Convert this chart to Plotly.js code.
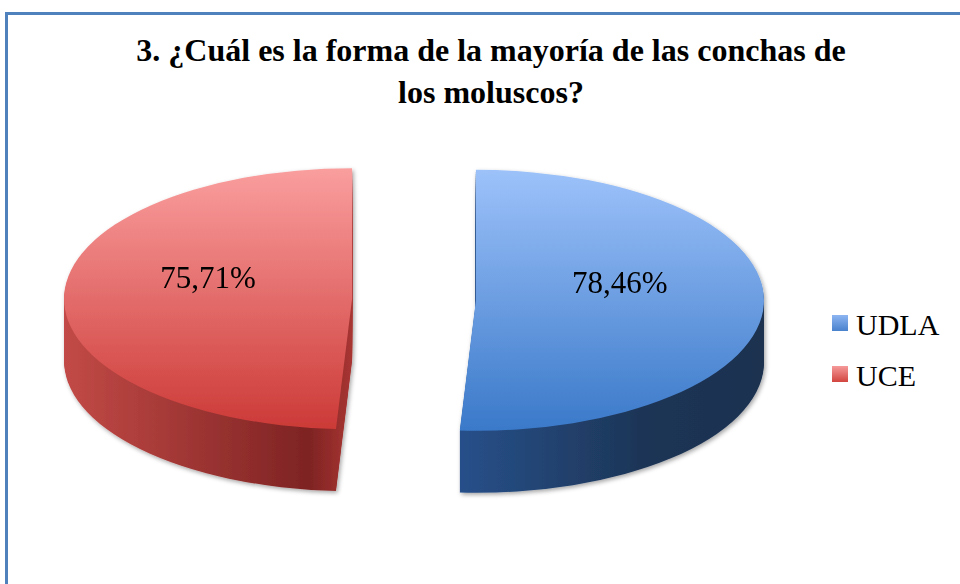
<!DOCTYPE html>
<html><head><meta charset="utf-8">
<script src="https://cdn.plot.ly/plotly-3.0.1.min.js"></script>
<style>
html,body{margin:0;padding:0;width:960px;height:584px;overflow:hidden;background:#fff;}
#frame{position:absolute;left:5px;top:12px;width:1000px;height:700px;border-top:3.5px solid #4f81bd;border-left:3.5px solid #4f81bd;box-sizing:border-box;}
#chart{position:absolute;left:0;top:0;width:960px;height:760px;}
</style></head><body>
<div id="frame"></div>
<div id="chart"></div>
<script>
// ---- data ----
const categories = ['UDLA', 'UCE'];
const percentages = [78.46, 75.71];
const labelTexts = percentages.map(v => v.toFixed(2).replace('.', ',') + '%');
const titleText = '3. ¿Cuál es la forma de la mayoría de las conchas de<br>los moluscos?';

// ---- style ----
const FONT = '"Times New Roman", "Liberation Serif", serif';
const topColors = ['#6d9be0', '#e06a66'];
const sideColors = ['#1f3a60', '#9a2d2b'];
const H = 760, CY_PRE = 380, CY = 299.5, S = 0.453, DEPTH = 62, STEP = 2;
const LABEL_DY = -42;
const dom = {x: [64/960, 764/960], y: [0, 1]};

const traces = [];
for (let d = DEPTH; d > 0; d -= STEP) {
  traces.push({type: 'pie', labels: categories, values: percentages, sort: false,
    direction: 'clockwise', rotation: 0, pull: [0.215, 0.215], domain: dom,
    marker: {colors: sideColors, line: {width: 0}}, textinfo: 'none',
    hoverinfo: 'skip', showlegend: false});
}
traces.push({type: 'pie', labels: categories, values: percentages, sort: false,
  direction: 'clockwise', rotation: 0, pull: [0.215, 0.215], domain: dom,
  marker: {colors: topColors, line: {width: 0}},
  text: labelTexts, textinfo: 'text', textposition: 'inside', insidetextorientation: 'horizontal',
  textfont: {family: FONT, size: 31, color: '#000'},
  hoverinfo: 'skip', showlegend: true});

const layout = {
  width: 960, height: H,
  margin: {l: 0, r: 0, t: 0, b: 0},
  paper_bgcolor: 'rgba(0,0,0,0)',
  showlegend: true,
  title: {text: titleText, x: 491/960, xanchor: 'center', y: 1 - 61/H, yanchor: 'top', yref: 'container',
    font: {family: FONT, size: 32, color: '#000', weight: 700}},
  legend: {x: 816/960, xanchor: 'left', y: 1 - 344/H, yanchor: 'middle',
    font: {family: FONT, size: 30, color: '#000'}, bgcolor: 'rgba(0,0,0,0)'}
};

Plotly.newPlot('chart', traces, layout, {staticPlot: true, displayModeBar: false}).then(gd => {
  const ns = 'http://www.w3.org/2000/svg';
  const svg = gd.querySelector('svg.main-svg');
  const defs = document.createElementNS(ns, 'defs');
  function grad(id, stops, vertical) {
    const g = document.createElementNS(ns, 'linearGradient');
    g.setAttribute('id', id);
    g.setAttribute('x1', '0'); g.setAttribute('y1', '0');
    g.setAttribute('x2', vertical ? '0' : '1'); g.setAttribute('y2', vertical ? '1' : '0');
    stops.forEach(([o, c]) => {
      const s = document.createElementNS(ns, 'stop');
      s.setAttribute('offset', o); s.setAttribute('stop-color', c);
      g.appendChild(s);
    });
    defs.appendChild(g);
  }
  grad('top0', [[0, '#9dc2fa'], [1, '#3a79c9']], true);
  grad('top1', [[0, '#fa9e9e'], [1, '#cc3a37']], true);
  grad('side0', [[0, '#27508a'], [0.6, '#1d3556'], [1, '#1b3150']], false);
  grad('side1', [[0, '#c24a46'], [0.85, '#7e2323'], [1, '#a83532']], false);
  grad('leg0', [[0, '#8db5f2'], [1, '#4a82cc']], true);
  grad('leg1', [[0, '#f59a9a'], [1, '#d2453f']], true);
  const f = document.createElementNS(ns, 'filter');
  f.setAttribute('id', 'pieshadow');
  f.setAttribute('x', '-5%'); f.setAttribute('y', '-5%');
  f.setAttribute('width', '110%'); f.setAttribute('height', '115%');
  const ds = document.createElementNS(ns, 'feDropShadow');
  ds.setAttribute('dx', '1.5'); ds.setAttribute('dy', '2');
  ds.setAttribute('stdDeviation', '2'); ds.setAttribute('flood-color', '#000');
  ds.setAttribute('flood-opacity', '0.35');
  f.appendChild(ds); defs.appendChild(f);
  svg.insertBefore(defs, svg.firstChild);

  const traceGs = gd.querySelectorAll('.pielayer > g.trace');
  traceGs.forEach((g, i) => {
    const isTop = i === traceGs.length - 1;
    const d = isTop ? 0 : DEPTH - i * STEP;
    g.setAttribute('transform', `translate(0,${CY + d}) scale(1,${S}) translate(0,${-CY_PRE})`);
    g.querySelectorAll('g.slice').forEach((sl, j) => {
      const p = sl.querySelector('path.surface');
      if (p) p.style.fill = `url(#${isTop ? 'top' : 'side'}${j})`;
    });
  });
  const pl = gd.querySelector('.pielayer');
  if (pl) pl.setAttribute('filter', 'url(#pieshadow)');
  const topG = traceGs[traceGs.length - 1];
  topG.querySelectorAll('g.slicetext').forEach(t => {
    const bb = t.getBBox();
    const cx = bb.x + bb.width / 2, cy = bb.y + bb.height / 2;
    const old = t.getAttribute('transform') || '';
    t.setAttribute('transform', old + ` translate(${cx},${cy + LABEL_DY}) scale(1,${1 / S}) translate(${-cx},${-cy})`);
  });
  gd.querySelectorAll('.legend .traces').forEach((tr, j) => {
    const p = tr.querySelector('.legendpoints path');
    if (p) {
      p.style.fill = `url(#leg${j})`;
      p.style.stroke = 'none';
      p.setAttribute('d', 'M-8,-8H8V8H-8Z');
      p.setAttribute('transform', 'translate(24,0)');
    }
    if (j === 1) {
      const old = tr.getAttribute('transform') || '';
      tr.setAttribute('transform', old + ' translate(0,9)');
    }
  });
});
</script>
</body></html>
